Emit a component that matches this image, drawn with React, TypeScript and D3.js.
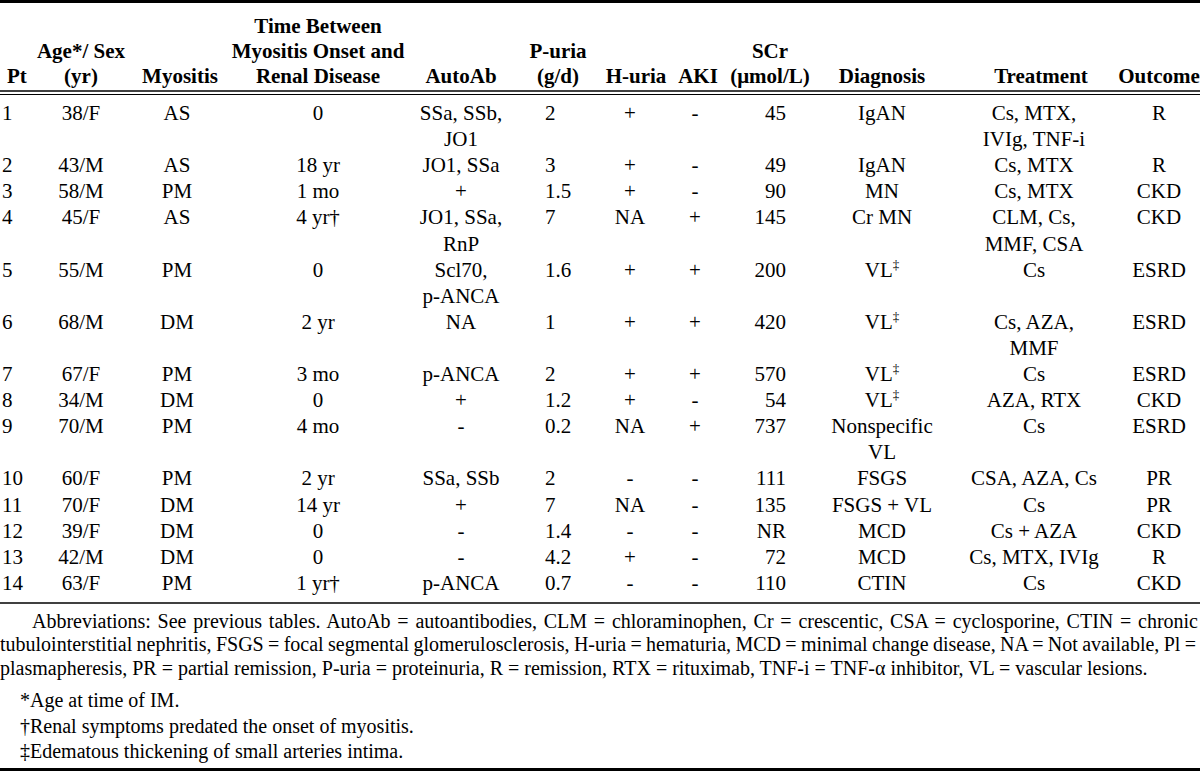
import React, { useEffect, useRef } from "react";
import * as d3 from "d3";

const pt = ["1","2","3","4","5","6","7","8","9","10","11","12","13","14"];
const ageSex = ["38/F","43/M","58/M","45/F","55/M","68/M","67/F","34/M","70/M","60/F","70/F","39/F","42/M","63/F"];
const myositis = ["AS","AS","PM","AS","PM","DM","PM","DM","PM","PM","DM","DM","DM","PM"];
const timeBetween = ["0","18 yr","1 mo","4 yr†","0","2 yr","3 mo","0","4 mo","2 yr","14 yr","0","0","1 yr†"];
const autoAb = ["SSa, SSb,\nJO1","JO1, SSa","+","JO1, SSa,\nRnP","Scl70,\np-ANCA","NA","p-ANCA","+","-","SSa, SSb","+","-","-","p-ANCA"];
const puria = ["2","3","1.5","7","1.6","1","2","1.2","0.2","2","7","1.4","4.2","0.7"];
const huria = ["+","+","+","NA","+","+","+","+","NA","-","NA","-","+","-"];
const aki = ["-","-","-","+","+","+","+","-","+","-","-","-","-","-"];
const scr = ["45","49","90","145","200","420","570","54","737","111","135","NR","72","110"];
const diagnosis = ["IgAN","IgAN","MN","Cr MN","VL‡","VL‡","VL‡","VL‡","Nonspecific\nVL","FSGS","FSGS + VL","MCD","MCD","CTIN"];
const treatment = ["Cs, MTX,\nIVIg, TNF-i","Cs, MTX","Cs, MTX","CLM, Cs,\nMMF, CSA","Cs","Cs, AZA,\nMMF","Cs","AZA, RTX","Cs","CSA, AZA, Cs","Cs","Cs + AZA","Cs, MTX, IVIg","Cs"];
const outcome = ["R","R","CKD","CKD","ESRD","ESRD","ESRD","CKD","ESRD","PR","PR","CKD","R","CKD"];

const headers = [
  { key: "pt", lines: ["", "", "Pt"] },
  { key: "age", lines: ["", "Age*/ Sex", "(yr)"] },
  { key: "myo", lines: ["", "", "Myositis"] },
  { key: "time", lines: ["Time Between", "Myositis Onset and", "Renal Disease"] },
  { key: "ab", lines: ["", "", "AutoAb"] },
  { key: "pu", lines: ["", "P-uria", "(g/d)"] },
  { key: "hu", lines: ["", "", "H-uria"] },
  { key: "aki", lines: ["", "", "AKI"] },
  { key: "scr", lines: ["", "SCr", "(\u03bcmol/L)"] },
  { key: "dx", lines: ["", "", "Diagnosis"] },
  { key: "tx", lines: ["", "", "Treatment"] },
  { key: "out", lines: ["", "", "Outcome"] },
];

const abbreviations = [
  "Abbreviations: See previous tables. AutoAb = autoantibodies, CLM = chloraminophen, Cr = crescentic, CSA = cyclosporine, CTIN = chronic",
  "tubulointerstitial nephritis, FSGS = focal segmental glomerulosclerosis, H-uria = hematuria, MCD = minimal change disease, NA = Not available, Pl =",
  "plasmapheresis, PR = partial remission, P-uria = proteinuria, R = remission, RTX = rituximab, TNF-i = TNF-\u03b1 inhibitor, VL = vascular lesions.",
];
const footnotes = [
  "*Age at time of IM.",
  "\u2020Renal symptoms predated the onset of myositis.",
  "\u2021Edematous thickening of small arteries intima.",
];

const FONT = "'Liberation Serif', 'Times New Roman', serif";
const FS = 21;
const FS_NOTE = 20;

const cols = [
  { data: pt, hx: 7, ha: "start", dx: 2, da: "start" },
  { data: ageSex, hx: 81, ha: "middle", dx: 81, da: "middle" },
  { data: myositis, hx: 180, ha: "middle", dx: 177, da: "middle" },
  { data: timeBetween, hx: 318, ha: "middle", dx: 318, da: "middle" },
  { data: autoAb, hx: 461, ha: "middle", dx: 461, da: "middle" },
  { data: puria, hx: 558, ha: "middle", dx: 545, da: "start" },
  { data: huria, hx: 636, ha: "middle", dx: 630, da: "middle" },
  { data: aki, hx: 698, ha: "middle", dx: 695, da: "middle" },
  { data: scr, hx: 770, ha: "middle", dx: 786, da: "end" },
  { data: diagnosis, hx: 882, ha: "middle", dx: 882, da: "middle" },
  { data: treatment, hx: 1041, ha: "middle", dx: 1034, da: "middle" },
  { data: outcome, hx: 1159, ha: "middle", dx: 1159, da: "middle" },
];

function renderCell(text: string) {
  if (text.endsWith("\u2021")) {
    return (
      <>
        {text.slice(0, -1)}
        <tspan dy={-8} fontSize={13}>{"\u2021"}</tspan>
      </>
    );
  }
  return text;
}

export default function App() {
  const ref = useRef<SVGSVGElement>(null);

  const rowLines = pt.map((_, i) =>
    d3.max(cols, (c) => c.data[i].split("\n").length) as number
  );
  const lineStart: number[] = [];
  let acc = 0;
  rowLines.forEach((n) => {
    lineStart.push(acc);
    acc += n;
  });
  const lineY = d3.scaleLinear().domain([0, 1]).range([120, 146.1]);
  const headY = d3.scaleLinear().domain([0, 1]).range([33, 58]);

  useEffect(() => {
    if (!ref.current) return;
    d3.select(ref.current)
      .selectAll<SVGTextElement, unknown>("text.just")
      .each(function () {
        const el = this;
        const target = +(el.getAttribute("data-w") || 0);
        const txt = el.textContent || "";
        const spaces = (txt.match(/ /g) || []).length;
        const w = el.getComputedTextLength();
        if (spaces > 0) d3.select(el).style("word-spacing", `${(target - w) / spaces}px`);
      });
  }, []);

  return (
    <svg
      ref={ref}
      width={1200}
      height={774}
      style={{ position: "absolute", left: 0, top: 0, background: "#fff", display: "block" }}
      fontFamily={FONT}
      fontSize={FS}
    >
      <rect x={0} y={0} width={1200} height={774} fill="#fff" />
      <line x1={0} x2={1200} y1={1.5} y2={1.5} stroke="#000" strokeWidth={3} />
      {headers.map((h, ci) =>
        h.lines.map((l, li) =>
          l ? (
            <text
              key={`h${ci}-${li}`}
              x={cols[ci].hx}
              y={headY(li)}
              textAnchor={cols[ci].ha as any}
              fontWeight="bold"
            >
              {l}
            </text>
          ) : null
        )
      )}
      <line x1={0} x2={1200} y1={91} y2={91} stroke="#000" strokeWidth={1.6} />
      <line x1={0} x2={1200} y1={94.5} y2={94.5} stroke="#000" strokeWidth={1} />
      {cols.map((c, ci) =>
        c.data.map((v, ri) =>
          v.split("\n").map((line, li) => (
            <text
              key={`d${ci}-${ri}-${li}`}
              x={c.dx}
              y={lineY(lineStart[ri] + li)}
              textAnchor={c.da as any}
            >
              {renderCell(line)}
            </text>
          ))
        )
      )}
      <line x1={0} x2={1200} y1={603} y2={603} stroke="#000" strokeWidth={1.5} />
      {abbreviations.map((a, i) => (
        <text
          key={`a${i}`}
          className={i < 2 ? "just" : undefined}
          data-w={i === 0 ? 1166 : 1196}
          x={i === 0 ? 32 : 0}
          y={627.5 + i * 23.5}
          fontSize={FS_NOTE}
        >
          {a}
        </text>
      ))}
      {footnotes.map((f, i) => (
        <text key={`f${i}`} x={20} y={707 + i * 25.5} fontSize={FS_NOTE}>
          {f}
        </text>
      ))}
      <line x1={0} x2={1200} y1={769.5} y2={769.5} stroke="#000" strokeWidth={3} />
    </svg>
  );
}
